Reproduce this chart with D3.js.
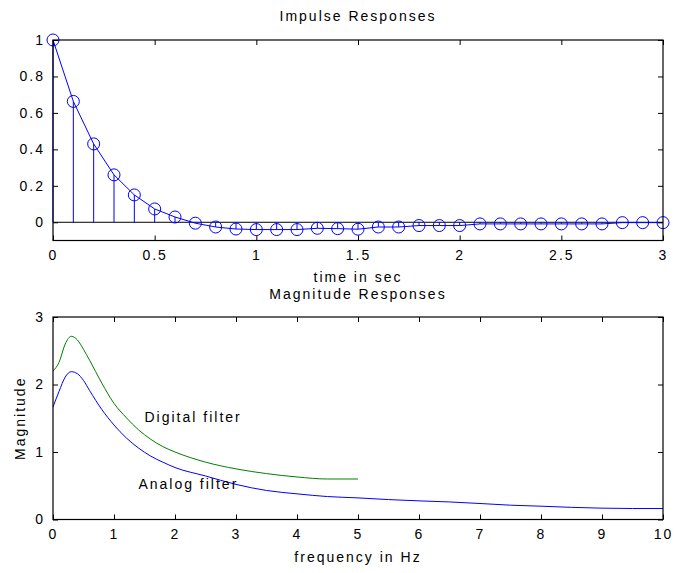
<!DOCTYPE html>
<html>
<head>
<meta charset="utf-8">
<script src="https://cdn.jsdelivr.net/npm/d3@7"></script>
<style>
  body { margin: 0; background: #fff; }
  text { font-family: "Liberation Sans", Arial, sans-serif; font-size: 14px; letter-spacing: 2px; fill: #000; }
</style>
</head>
<body>
<svg id="chart" width="674" height="573"></svg>
<script>
'use strict';

// Impulse response samples, t = 0 .. 3 s in 0.1 s steps
const timeSec = d3.range(31).map(i => i / 10);
const impulse = [1.0, 0.663, 0.43, 0.26, 0.15, 0.073, 0.029, -0.005, -0.026, -0.037,
  -0.04, -0.04, -0.04, -0.033, -0.035, -0.038, -0.026, -0.026, -0.018, -0.018,
  -0.018, -0.009, -0.009, -0.009, -0.009, -0.009, -0.009, -0.009, -0.002, -0.002, -0.002];

// Magnitude responses
const analogFreq = [0, 0.1, 0.2, 0.3, 0.4, 0.5, 0.6, 0.8, 1.0, 1.2, 1.4, 1.6, 1.8, 2.0, 2.5, 3.0,
  3.5, 4.0, 4.5, 5.0, 5.5, 6.0, 6.5, 7.0, 7.5, 8.0, 8.5, 9.0, 9.5, 10];
const analogMag = [1.667, 1.9, 2.11, 2.19, 2.16, 2.06, 1.91, 1.63, 1.40, 1.21, 1.06, 0.94, 0.85, 0.77,
  0.645, 0.52, 0.43, 0.38, 0.34, 0.32, 0.295, 0.276, 0.26, 0.237, 0.212, 0.197, 0.18, 0.168, 0.163, 0.163];
const digitalFreq = [0, 0.1, 0.2, 0.3, 0.4, 0.5, 0.6, 0.8, 1.0, 1.2, 1.4, 1.6, 1.8, 2.0, 2.5, 3.0,
  3.5, 4.0, 4.5, 5.0];
const digitalMag = [2.2, 2.33, 2.6, 2.714, 2.66, 2.52, 2.36, 2.02, 1.72, 1.51, 1.33, 1.19, 1.08, 1.0,
  0.85, 0.75, 0.68, 0.63, 0.60, 0.60];

const timeTicks = [0, 0.5, 1, 1.5, 2, 2.5, 3];
const impulseTicks = [0, 0.2, 0.4, 0.6, 0.8, 1];
const freqTicks = d3.range(0, 11);
const magTicks = [0, 1, 2, 3];

const BLUE = '#0000ff';
const GREEN = '#008000';

const svg = d3.select('#chart');

// Draws a MATLAB-style boxed axes with inward ticks on all four sides.
function boxAxes(x, y, xTicks, yTicks) {
  const g = svg.append('g');
  const [xl, xr] = x.range();
  const [yb, yt] = y.range();
  const len = 5;

  g.append('g').attr('transform', `translate(0,${yb})`)
    .call(d3.axisBottom(x).tickValues(xTicks).tickSize(-len).tickPadding(10).tickFormat(d3.format('')))
    .call(s => s.select('.domain').remove());
  g.append('g').attr('transform', `translate(0,${yt})`)
    .call(d3.axisTop(x).tickValues(xTicks).tickSize(-len).tickFormat(''))
    .call(s => s.select('.domain').remove());
  g.append('g').attr('transform', `translate(${xl},0)`)
    .call(d3.axisLeft(y).tickValues(yTicks).tickSize(-len).tickPadding(8).tickFormat(d3.format('')))
    .call(s => s.select('.domain').remove());
  g.append('g').attr('transform', `translate(${xr},0)`)
    .call(d3.axisRight(y).tickValues(yTicks).tickSize(-len).tickFormat(''))
    .call(s => s.select('.domain').remove());

  g.selectAll('.tick line').attr('stroke', '#000');
  g.selectAll('.tick text').attr('font-size', null).attr('font-family', null).attr('fill', '#000');

  g.append('rect')
    .attr('x', xl).attr('y', yt)
    .attr('width', xr - xl).attr('height', yb - yt)
    .attr('fill', 'none').attr('stroke', '#000').attr('stroke-width', 1.2);
  return g;
}

// ---- Impulse responses ----
const x1 = d3.scaleLinear().domain([0, 3]).range([53, 663]);
const y1 = d3.scaleLinear().domain([-0.1, 1]).range([240.5, 40]);

const upper = svg.append('g');
upper.append('line')
  .attr('x1', x1(0)).attr('x2', x1(3))
  .attr('y1', y1(0)).attr('y2', y1(0))
  .attr('stroke', '#000');

upper.selectAll('line.stem')
  .data(impulse)
  .join('line')
  .attr('class', 'stem')
  .attr('x1', (d, i) => x1(timeSec[i])).attr('x2', (d, i) => x1(timeSec[i]))
  .attr('y1', y1(0)).attr('y2', d => y1(d))
  .attr('stroke', BLUE);

upper.append('path')
  .datum(impulse)
  .attr('fill', 'none')
  .attr('stroke', BLUE)
  .attr('d', d3.line().x((d, i) => x1(timeSec[i])).y(d => y1(d)));

upper.selectAll('circle')
  .data(impulse)
  .join('circle')
  .attr('cx', (d, i) => x1(timeSec[i]))
  .attr('cy', d => y1(d))
  .attr('r', 6)
  .attr('fill', 'none')
  .attr('stroke', BLUE);

boxAxes(x1, y1, timeTicks, impulseTicks);

svg.append('text').attr('x', 358).attr('y', 21).attr('text-anchor', 'middle').text('Impulse Responses');
svg.append('text').attr('x', 358).attr('y', 282).attr('text-anchor', 'middle').text('time in sec');

// ---- Magnitude responses ----
const x2 = d3.scaleLinear().domain([0, 10]).range([53, 663]);
const y2 = d3.scaleLinear().domain([0, 3]).range([519.5, 317]);

const lower = svg.append('g');
lower.append('path')
  .datum(digitalMag)
  .attr('fill', 'none')
  .attr('stroke', GREEN)
  .attr('d', d3.line().curve(d3.curveMonotoneX).x((d, i) => x2(digitalFreq[i])).y(d => y2(d)));
lower.append('path')
  .datum(analogMag)
  .attr('fill', 'none')
  .attr('stroke', BLUE)
  .attr('d', d3.line().curve(d3.curveMonotoneX).x((d, i) => x2(analogFreq[i])).y(d => y2(d)));

boxAxes(x2, y2, freqTicks, magTicks);

svg.append('text').attr('x', x2(1.5)).attr('y', y2(1.45)).text('Digital filter');
svg.append('text').attr('x', x2(1.4)).attr('y', y2(0.45)).text('Analog filter');

svg.append('text').attr('x', 358).attr('y', 299).attr('text-anchor', 'middle').text('Magnitude Responses');
svg.append('text').attr('x', 358).attr('y', 562).attr('text-anchor', 'middle').text('frequency in Hz');
svg.append('text')
  .attr('transform', `translate(25,${(317 + 519.5) / 2}) rotate(-90)`)
  .attr('text-anchor', 'middle')
  .text('Magnitude');
</script>
</body>
</html>
